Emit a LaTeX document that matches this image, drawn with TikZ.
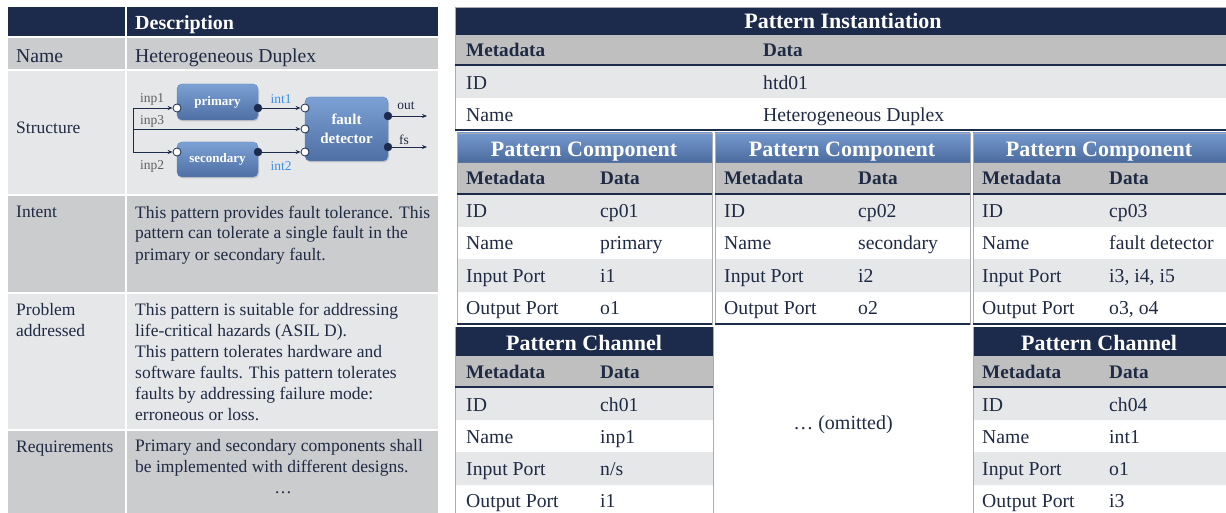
\documentclass[tikz,border=0pt]{standalone}
\usepackage{fontspec}
\setmainfont{Liberation Serif}
\usetikzlibrary{arrows.meta,shadows}
\definecolor{navy}{HTML}{1C2A4B}
\definecolor{ink}{HTML}{1F2A44}
\definecolor{rowdark}{HTML}{CBCCCE}
\definecolor{rowlight}{HTML}{E6E7E9}
\definecolor{metagray}{HTML}{BFBFBF}
\definecolor{edgegray}{HTML}{A9ACB2}
\definecolor{blocktop}{HTML}{7CA1D5}
\definecolor{blockbot}{HTML}{4E6FA3}
\definecolor{blockedge}{HTML}{5B7FB6}
\definecolor{headtop}{HTML}{7599CF}
\definecolor{headbot}{HTML}{4A6A9C}
\definecolor{intblue}{HTML}{3D8FEA}
\definecolor{tagray}{HTML}{5F5F5F}
\begin{document}
\begin{tikzpicture}[x=1pt, y=-1pt,
	every node/.style={inner sep=0pt, text=ink},
	cell/.style={anchor=base west, font=\fontsize{19.7}{23}\selectfont},
	lcell/.style={anchor=base west, align=left, font=\fontsize{17.5}{21}\selectfont},
	meta/.style={anchor=base west, font=\bfseries\fontsize{19.2}{23}\selectfont},
	head/.style={anchor=base, text=white, font=\bfseries\fontsize{22}{26}\selectfont},
	block/.style={rectangle, rounded corners=5pt, draw=blockedge, top color=blocktop, bottom color=blockbot, drop shadow={opacity=0.3, shadow xshift=1pt, shadow yshift=-1.5pt}, text=white, align=center, font=\bfseries\fontsize{13}{15}\selectfont},
	inport/.style={circle, draw=navy, fill=white, line width=0.8pt, minimum size=8pt},
	outport/.style={circle, draw=navy, fill=navy, minimum size=8pt},
	wire/.style={draw=navy, line width=0.8pt, -{Stealth[length=5pt, width=4pt]}},
	tag/.style={text=tagray, font=\fontsize{13.5}{15}\selectfont}]
	\useasboundingbox (0,0) rectangle (1226,513);

	\fill[navy] (8,7) rectangle (438,37);
	\fill[rowdark] (8,37) rectangle (438,70);
	\fill[rowlight] (8,70) rectangle (438,195);
	\fill[rowdark] (8,195) rectangle (438,293);
	\fill[rowlight] (8,293) rectangle (438,430);
	\fill[rowdark] (8,430) rectangle (438,513);
	\draw[white, line width=2pt] (126,7) -- (126,513);
	\draw[white, line width=1.5pt] (8,37) -- (438,37) (8,70) -- (438,70) (8,195) -- (438,195) (8,293) -- (438,293) (8,430) -- (438,430);

	\node[anchor=base west, text=white, font=\bfseries\fontsize{20}{24}\selectfont] (descHead) at (135,30) {Description};
	\node[cell] (nameKey) at (16,63) {Name};
	\node[cell] (nameVal) at (135,63) {Heterogeneous Duplex};
	\node[lcell] (structKey) at (16,134) {Structure};
	\node[lcell] (intentKey) at (16,218) {Intent};
	\node[lcell] (intentVal) at (135,260) {This pattern provides fault tolerance. This\\pattern can tolerate a single fault in the\\primary or secondary fault.};
	\node[lcell] (problemKey) at (16,336) {Problem\\addressed};
	\node[lcell] (problemVal) at (135,420) {This pattern is suitable for addressing\\life-critical hazards (ASIL D).\\This pattern tolerates hardware and\\software faults. This pattern tolerates\\faults by addressing failure mode:\\erroneous or loss.};
	\node[lcell] (reqKey) at (16,452) {Requirements};
	\node[lcell] (reqVal) at (135,472) {Primary and secondary components shall\\be implemented with different designs.};
	\node[anchor=base, font=\fontsize{17.5}{21}\selectfont] (reqMore) at (283,493) {\dots};

	\node[block, minimum width=81pt, minimum height=36pt] (primary) at (217.5,102) {primary};
	\node[block, minimum width=81pt, minimum height=35pt] (secondary) at (217.5,159.5) {secondary};
	\node[block, minimum width=83pt, minimum height=64pt, font=\bfseries\fontsize{15}{19}\selectfont] (detector) at (346.5,129) {fault\\detector};

	\node[inport] (i1) at (177,108) {};
	\node[inport] (i2) at (177,152) {};
	\node[inport] (i3) at (305,108) {};
	\node[inport] (i4) at (305,129) {};
	\node[inport] (i5) at (305,152) {};
	\node[outport] (o1) at (258,108) {};
	\node[outport] (o2) at (258,152) {};
	\node[outport] (o3) at (388,116) {};
	\node[outport] (o4) at (388,147) {};

	\coordinate (splitTop) at (133,108);
	\coordinate (splitMid) at (133,129);
	\coordinate (splitLow) at (133,152);
	\coordinate (outEnd) at (427,116);
	\coordinate (fsEnd) at (427,147);

	\draw[wire] (splitTop) -- (i1);
	\draw[wire] (splitMid) -- (i4);
	\draw[wire] (splitTop) -- (splitLow) -- (i2);
	\draw[wire] (o1) -- (i3);
	\draw[wire] (o2) -- (i5);
	\draw[wire] (o3) -- (outEnd);
	\draw[wire] (o4) -- (fsEnd);

	\node[tag] (inp1) at (152,99) {inp1};
	\node[tag] (inp3) at (152,121) {inp3};
	\node[tag] (inp2) at (152,166) {inp2};
	\node[tag, text=intblue] (int1) at (281,99) {int1};
	\node[tag, text=intblue] (int2) at (281,166) {int2};
	\node[tag, text=ink] (out) at (406,106) {out};
	\node[tag, text=ink] (fs) at (404,140) {fs};

	\fill[navy] (455,7) rectangle (1226,35);
	\fill[metagray] (455,35) rectangle (1226,65);
	\fill[rowlight] (455,65) rectangle (1226,98);
	\draw[edgegray] (455,7) rectangle (1226,130);
	\draw[navy, line width=2pt] (455,65) -- (1226,65);
	\draw[navy, line width=1.5pt] (455,130) -- (1226,130);

	\node[head] (instHead) at (843,29) {Pattern Instantiation};
	\node[meta] (instMeta) at (466,57) {Metadata};
	\node[meta] (instData) at (763,57) {Data};
	\node[cell] (instIdKey) at (466,90) {ID};
	\node[cell] (instIdVal) at (763,90) {htd01};
	\node[cell] (instNameKey) at (466,122) {Name};
	\node[cell] (instNameVal) at (763,122) {Heterogeneous Duplex};

	\shade[top color=headtop, bottom color=headbot] (457,133) rectangle (712,163);
	\shade[top color=headtop, bottom color=headbot] (715,133) rectangle (970,163);
	\shade[top color=headtop, bottom color=headbot] (973,133) rectangle (1226,163);
	\fill[metagray] (457,163) rectangle (712,194) (715,163) rectangle (970,194) (973,163) rectangle (1226,194);
	\fill[rowlight] (457,194) rectangle (712,227) (715,194) rectangle (970,227) (973,194) rectangle (1226,227);
	\fill[rowlight] (457,259) rectangle (712,292) (715,259) rectangle (970,292) (973,259) rectangle (1226,292);
	\draw[edgegray] (457,133) rectangle (712,324) (715,133) rectangle (970,324) (973,133) rectangle (1226,324);
	\draw[navy, line width=2pt] (457,194) -- (712,194) (715,194) -- (970,194) (973,194) -- (1226,194);
	\draw[navy, line width=2.5pt] (457,324) -- (712,324) (715,324) -- (970,324) (973,324) -- (1226,324);

	\node[head] (compHeadA) at (584,157) {Pattern Component};
	\node[meta] (compMetaA) at (466,185) {Metadata};
	\node[meta] (compDataA) at (600,185) {Data};
	\node[cell] (compIdKeyA) at (466,218) {ID};
	\node[cell] (compIdValA) at (600,218) {cp01};
	\node[cell] (compNameKeyA) at (466,250) {Name};
	\node[cell] (compNameValA) at (600,250) {primary};
	\node[cell] (compInKeyA) at (466,282) {Input Port};
	\node[cell] (compInValA) at (600,282) {i1};
	\node[cell] (compOutKeyA) at (466,314) {Output Port};
	\node[cell] (compOutValA) at (600,314) {o1};

	\node[head] (compHeadB) at (842,157) {Pattern Component};
	\node[meta] (compMetaB) at (724,185) {Metadata};
	\node[meta] (compDataB) at (858,185) {Data};
	\node[cell] (compIdKeyB) at (724,218) {ID};
	\node[cell] (compIdValB) at (858,218) {cp02};
	\node[cell] (compNameKeyB) at (724,250) {Name};
	\node[cell] (compNameValB) at (858,250) {secondary};
	\node[cell] (compInKeyB) at (724,282) {Input Port};
	\node[cell] (compInValB) at (858,282) {i2};
	\node[cell] (compOutKeyB) at (724,314) {Output Port};
	\node[cell] (compOutValB) at (858,314) {o2};

	\node[head] (compHeadC) at (1099,157) {Pattern Component};
	\node[meta] (compMetaC) at (982,185) {Metadata};
	\node[meta] (compDataC) at (1109,185) {Data};
	\node[cell] (compIdKeyC) at (982,218) {ID};
	\node[cell] (compIdValC) at (1109,218) {cp03};
	\node[cell] (compNameKeyC) at (982,250) {Name};
	\node[cell] (compNameValC) at (1109,250) {fault detector};
	\node[cell] (compInKeyC) at (982,282) {Input Port};
	\node[cell] (compInValC) at (1109,282) {i3, i4, i5};
	\node[cell] (compOutKeyC) at (982,314) {Output Port};
	\node[cell] (compOutValC) at (1109,314) {o3, o4};

	\fill[navy] (455,327) rectangle (713,356) (973,327) rectangle (1226,356);
	\fill[metagray] (455,356) rectangle (713,387) (973,356) rectangle (1226,387);
	\fill[rowlight] (455,387) rectangle (713,420) (973,387) rectangle (1226,420);
	\fill[rowlight] (455,452) rectangle (713,485) (973,452) rectangle (1226,485);
	\draw[edgegray] (455,327) -- (455,513) (713,327) -- (713,513) (973,327) -- (973,513);
	\draw[navy, line width=2pt] (455,387) -- (713,387) (973,387) -- (1226,387);

	\node[head] (chanHeadA) at (584,350) {Pattern Channel};
	\node[meta] (chanMetaA) at (466,378) {Metadata};
	\node[meta] (chanDataA) at (600,378) {Data};
	\node[cell] (chanIdKeyA) at (466,411) {ID};
	\node[cell] (chanIdValA) at (600,411) {ch01};
	\node[cell] (chanNameKeyA) at (466,443) {Name};
	\node[cell] (chanNameValA) at (600,443) {inp1};
	\node[cell] (chanInKeyA) at (466,475) {Input Port};
	\node[cell] (chanInValA) at (600,475) {n/s};
	\node[cell] (chanOutKeyA) at (466,507) {Output Port};
	\node[cell] (chanOutValA) at (600,507) {i1};

	\node[head] (chanHeadC) at (1099,350) {Pattern Channel};
	\node[meta] (chanMetaC) at (982,378) {Metadata};
	\node[meta] (chanDataC) at (1109,378) {Data};
	\node[cell] (chanIdKeyC) at (982,411) {ID};
	\node[cell] (chanIdValC) at (1109,411) {ch04};
	\node[cell] (chanNameKeyC) at (982,443) {Name};
	\node[cell] (chanNameValC) at (1109,443) {int1};
	\node[cell] (chanInKeyC) at (982,475) {Input Port};
	\node[cell] (chanInValC) at (1109,475) {o1};
	\node[cell] (chanOutKeyC) at (982,507) {Output Port};
	\node[cell] (chanOutValC) at (1109,507) {i3};

	\node[anchor=base, font=\fontsize{20}{24}\selectfont] (omitted) at (843,429) {\dots\ (omitted)};
\end{tikzpicture}
\end{document}
